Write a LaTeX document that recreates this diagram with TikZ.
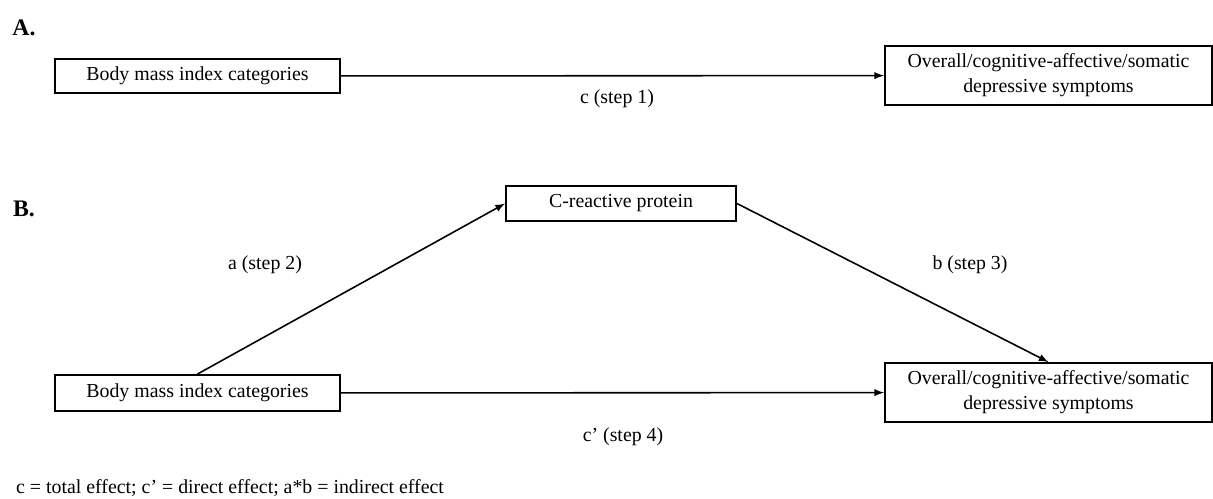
\documentclass[tikz,border=0pt]{standalone}
\usepackage{fontspec}
\setmainfont{Liberation Serif}
\usepackage{tikz}
\usetikzlibrary{arrows,positioning}

\begin{document}
\begin{tikzpicture}[
    x=0.02cm, y=-0.02cm,
    varbox/.style={
        rectangle,
        draw=black,
        line width=1.1pt,
        inner sep=0pt,
        align=center,
        font=\fontsize{11.3}{14.2}\selectfont
    },
    panel/.style={font=\fontsize{13.5}{15}\selectfont\bfseries},
    pathlabel/.style={font=\fontsize{11.3}{14.2}\selectfont},
    flowarrow/.style={line width=0.9pt,->,>=latex}
]
\useasboundingbox (0,0) rectangle (1213,498);
% panel A
\node (labA) [panel] at (24,28) {A.};
\node (bmiA) [varbox, minimum width=5.7cm, minimum height=0.68cm] at (197.5,76) {Body mass index categories};
\node (depA) [varbox, minimum width=6.54cm, minimum height=1.18cm] at (1048.5,75.5) {Overall/cognitive-affective/somatic\\depressive symptoms};
\node (cA) [pathlabel] at (617,99) {c (step 1)};
\draw [flowarrow] (bmiA) -- (depA);
% panel B
\node (labB) [panel] at (24,209) {B.};
\node (crp) [varbox, minimum width=4.6cm, minimum height=0.7cm] at (621,203.5) {C-reactive protein};
\node (bmiB) [varbox, minimum width=5.7cm, minimum height=0.72cm] at (197.5,393) {Body mass index categories};
\node (depB) [varbox, minimum width=6.54cm, minimum height=1.18cm] at (1048.5,392.5) {Overall/cognitive-affective/somatic\\depressive symptoms};
\node (aB) [pathlabel] at (265,265) {a (step 2)};
\node (bB) [pathlabel] at (970,265) {b (step 3)};
\node (cpB) [pathlabel] at (623,437) {c’ (step 4)};
\draw [flowarrow] (bmiB.north) -- (crp.west);
\draw [flowarrow] (crp.east) -- (depB.north);
\draw [flowarrow] (bmiB) -- (depB);
% note
\node (note) [pathlabel, anchor=west] at (10,488) {c = total effect; c’ = direct effect; a*b = indirect effect};
\end{tikzpicture}
\end{document}
